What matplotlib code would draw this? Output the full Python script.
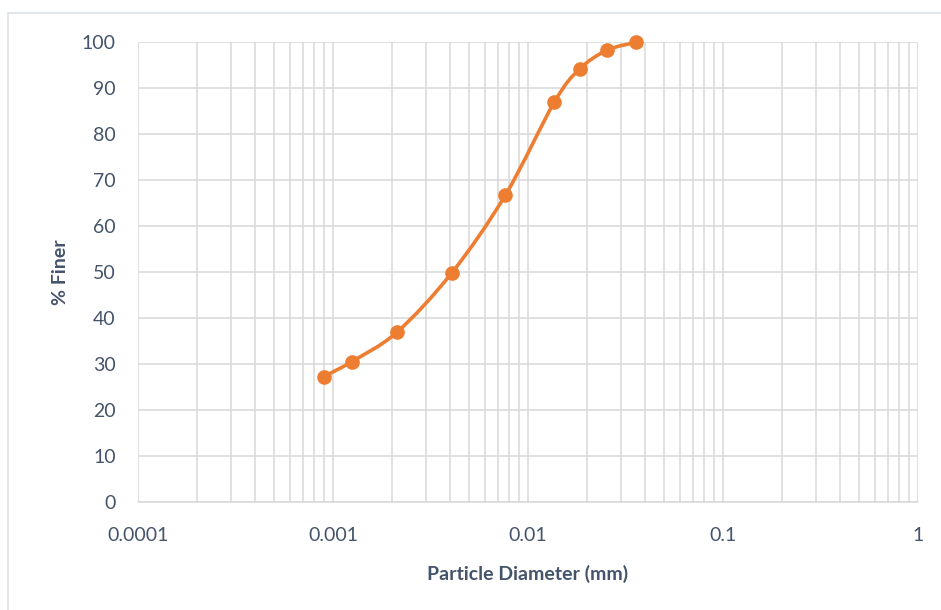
import matplotlib
matplotlib.use("Agg")
import matplotlib.pyplot as plt
import numpy as np
from matplotlib.patches import PathPatch, Rectangle
from matplotlib.path import Path
from matplotlib.ticker import FixedLocator, LogLocator, NullFormatter

# grain size distribution (hydrometer)
diameter_mm = [0.000895, 0.00125, 0.00213, 0.00407, 0.00766, 0.01365, 0.0184, 0.0255, 0.0359]
percent_finer = [27.3, 30.6, 37.0, 49.9, 66.8, 87.0, 94.2, 98.3, 100.0]

x_ticks = [0.0001, 0.001, 0.01, 0.1, 1]
x_tick_labels = ["0.0001", "0.001", "0.01", "0.1", "1"]
y_ticks = list(range(0, 101, 10))

ORANGE = "#ED7D31"
GRID = "#D9D9D9"
TEXT = "#44546A"

plt.rcParams["font.family"] = ["Lato", "DejaVu Sans"]


def smooth_path(xs, ys):
    """Excel-style smoothed line: cubic Bezier segments, Catmull-Rom control points,
    built in log-x space so the curve is smooth on screen."""
    lx = np.log10(xs)
    y = np.asarray(ys, dtype=float)
    n = len(lx)
    verts = [(xs[0], y[0])]
    codes = [Path.MOVETO]
    for i in range(n - 1):
        i0 = max(i - 1, 0)
        i3 = min(i + 2, n - 1)
        c1 = (lx[i] + (lx[i + 1] - lx[i0]) / 6, y[i] + (y[i + 1] - y[i0]) / 6)
        c2 = (lx[i + 1] - (lx[i3] - lx[i]) / 6, y[i + 1] - (y[i3] - y[i]) / 6)
        verts += [(10 ** c1[0], c1[1]), (10 ** c2[0], c2[1]), (xs[i + 1], y[i + 1])]
        codes += [Path.CURVE4] * 3
    return Path(verts, codes)


fig = plt.figure(figsize=(9.41, 6.10), dpi=100)
ax = fig.add_axes([138 / 941, 1 - 502.3 / 610, (918 - 138) / 941, 460 / 610])

# outer chart border
fig.patches.append(Rectangle((8 / 941, -0.1), 1.2, 1 - 13 / 610 + 0.1,
                             transform=fig.transFigure, fill=False,
                             edgecolor="#DCE1E8", linewidth=1.2))

ax.set_xscale("log")
ax.set_xlim(0.0001, 1)
ax.set_ylim(0, 100)

ax.xaxis.set_major_locator(FixedLocator(x_ticks))
ax.set_xticks(x_ticks, x_tick_labels)
ax.xaxis.set_minor_locator(LogLocator(base=10, subs=np.arange(2, 10)))
ax.xaxis.set_minor_formatter(NullFormatter())
ax.set_yticks(y_ticks)

ax.grid(True, which="major", color=GRID, linewidth=1.1)
ax.grid(True, which="minor", axis="x", color=GRID, linewidth=1.1)
ax.set_axisbelow(True)

for side in ["top", "right", "left"]:
    ax.spines[side].set_visible(False)
ax.spines["bottom"].set_color(GRID)
ax.spines["bottom"].set_linewidth(1.1)

ax.tick_params(which="both", length=0, colors=TEXT, labelsize=14)
ax.tick_params(axis="y", pad=16)
ax.tick_params(axis="x", pad=18)

ax.add_patch(PathPatch(smooth_path(diameter_mm, percent_finer), fill=False,
                       edgecolor=ORANGE, linewidth=2.6, zorder=3))
ax.plot(diameter_mm, percent_finer, linestyle="none", marker="o", markersize=9.5,
        color=ORANGE, zorder=4, clip_on=False)

ax.set_xlabel("Particle Diameter (mm)", fontsize=14, fontweight="bold", color=TEXT, labelpad=15)
ax.set_ylabel("% Finer", fontsize=14, fontweight="bold", color=TEXT, labelpad=9)

fig.savefig("out.png", dpi=100)
